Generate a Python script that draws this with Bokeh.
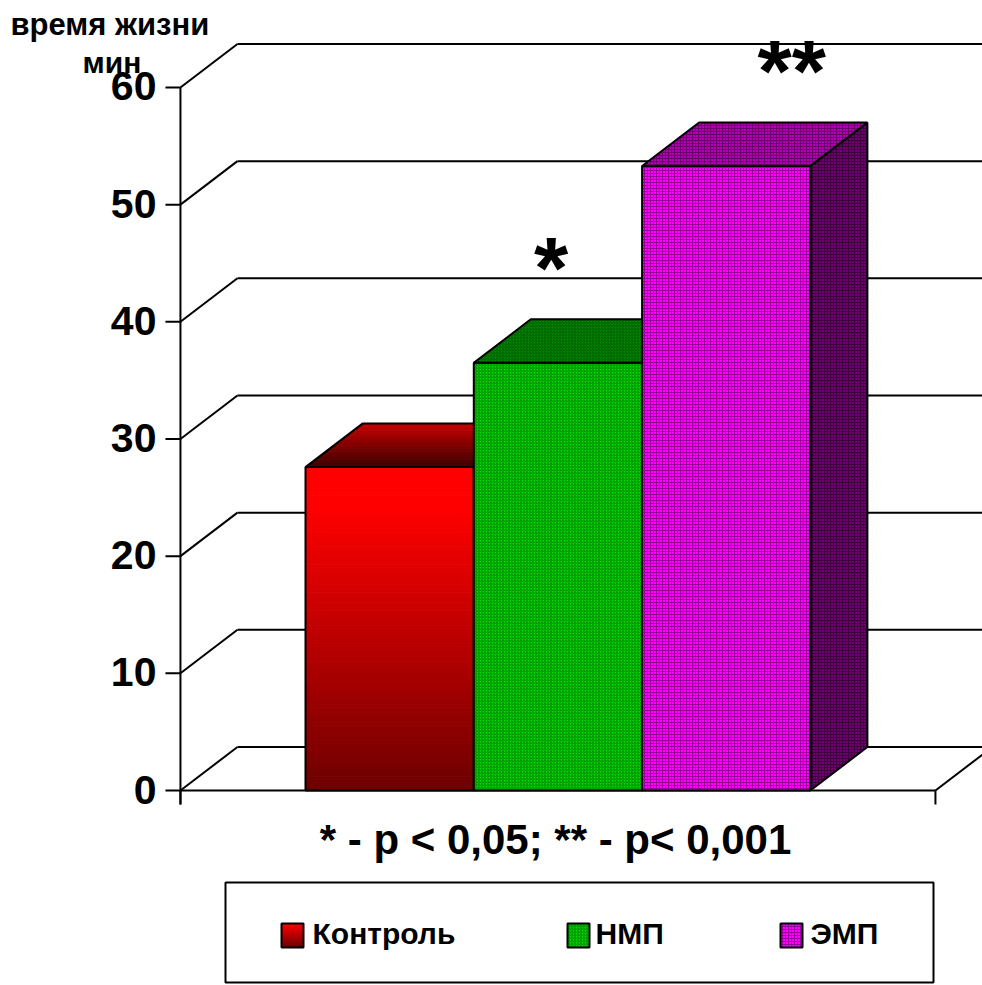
import numpy as np
from bokeh.plotting import figure
from bokeh.models import Range1d
from bokeh.core.properties import value
from bokeh.embed import file_html
from bokeh.resources import INLINE

# ---- data ---------------------------------------------------------------
series = ["Контроль", "НМП", "ЭМП"]
lifetime = [27.6, 36.5, 53.3]          # время жизни, мин
marks = ["", "*", "**"]                # significance markers
y_ticks = [0, 10, 20, 30, 40, 50, 60]
y_tick_labels = ["0", "10", "20", "30", "40", "50", "60"]
axis_title = ["время жизни", "мин"]
footnote = "* - p < 0,05; ** - p< 0,001"

# ---- layout -------------------------------------------------------------
W, H = 982, 985
PX_BAR = 168.3        # pixels per category unit (one bar width)
PX_VAL = 11.717       # pixels per minute
ORIGIN_X = 305        # pixel x of first bar's left edge
ORIGIN_Y = 790        # pixel y of the zero line (front plane)
BASE_FIX = 0.39       # baseline correction, in em, for the svg text layout


def sx(px):
    return (px - ORIGIN_X) / PX_BAR


def sy(py):
    return (ORIGIN_Y - py) / PX_VAL


def lift(size):
    """Value-units shift that puts the alphabetic baseline where asked."""
    return BASE_FIX * size / PX_VAL


GAP = 0.743                     # floor margin on each side of the bars
DX = 57 / PX_BAR                # depth offset, x
DY = 43.5 / PX_VAL              # depth offset, y
XL, XR = -GAP, len(series) + GAP
FONT = value("Liberation Sans")
LW = 2

p = figure(width=W, height=H, x_range=Range1d(sx(0), sx(W)),
           y_range=Range1d(sy(H), sy(0)), output_backend="svg",
           toolbar_location=None, x_axis_type=None, y_axis_type=None,
           min_border=0, outline_line_color=None)
p.background_fill_color = "white"
p.border_fill_color = "white"
p.grid.visible = False


def lerp(c0, c1, t):
    return "#%02x%02x%02x" % tuple(int(round(a + (b - a) * t)) for a, b in zip(c0, c1))


# ---- walls, floor and grid ---------------------------------------------
yt = np.array(y_ticks, dtype=float)
p.segment(x0=XL + DX, y0=yt + DY, x1=sx(W) + 1, y1=yt + DY, line_color="black", line_width=LW)
p.segment(x0=XL, y0=yt, x1=XL + DX, y1=yt + DY, line_color="black", line_width=LW)
p.segment(x0=[XL, XR], y0=[0, 0], x1=[XR, XR + DX], y1=[0, DY], line_color="black", line_width=LW)

# ---- bars -----------------------------------------------------------------
styles = [
    None,
    dict(front=("#00dc00", "#008400"), top=("#008c00", "#005a00"), side=("#006c00", "#004000"), pat="/"),
    dict(front=("#ff00ff", "#9a009a"), top=("#b400b4", "#6a006a"), side=("#700070", "#3c003c"), pat="+"),
]

for i, v in enumerate(lifetime):
    x0, x1 = float(i), float(i + 1)
    front = ([x0, x1, x1, x0], [0, 0, v, v])
    top = ([x0, x1, x1 + DX, x0 + DX], [v, v, v + DY, v + DY])
    side = ([x1, x1 + DX, x1 + DX, x1], [0, DY, v + DY, v])
    st = styles[i]
    if st is None:
        # gradient red: top and front built from thin strips
        n = 90
        edges = np.linspace(v, 0, n + 1)
        cols = [lerp((255, 0, 0), (0x6c, 0, 0), max(0.0, (k / n - 0.12) / 0.88)) for k in range(n)]
        p.quad(left=x0, right=x1, top=edges[:-1], bottom=edges[1:], fill_color=cols, line_color=cols, line_width=1)
        m = 30
        ts = np.linspace(0, 1, m + 1)
        xs = [[x0 + a * DX, x1 + a * DX, x1 + b * DX, x0 + b * DX] for a, b in zip(ts[:-1], ts[1:])]
        ys = [[v + a * DY, v + a * DY, v + b * DY, v + b * DY] for a, b in zip(ts[:-1], ts[1:])]
        tc = [lerp((0x3a, 0, 0), (0xc4, 0, 0), (k + 0.5) / m) for k in range(m)]
        p.patches(xs, ys, fill_color=tc, line_color=tc, line_width=1)
    else:
        for face, key in ((side, "side"), (top, "top"), (front, "front")):
            fc, hc = st[key]
            p.patch(face[0], face[1], fill_color=fc, line_color=None,
                    hatch_pattern=st["pat"], hatch_color=hc, hatch_scale=3, hatch_weight=1)
    for face in (side, top, front):
        p.patch(face[0], face[1], fill_color=None, line_color="black", line_width=LW)

# ---- value axis ------------------------------------------------------------
TICK_X = 15 / PX_BAR
TICK_Y = 14 / PX_VAL
p.segment(x0=XL, y0=-TICK_Y, x1=XL, y1=max(y_ticks), line_color="black", line_width=LW)
p.segment(x0=XL - TICK_X, y0=yt, x1=XL, y1=yt, line_color="black", line_width=LW)
p.segment(x0=[XL, XR], y0=[0, 0], x1=[XL, XR], y1=[-TICK_Y, -TICK_Y], line_color="black", line_width=LW)
p.text(x=XL - 24 / PX_BAR, y=yt - 15 / PX_VAL + lift(41), text=y_tick_labels, text_font=FONT,
       text_font_style="bold", text_font_size="41px", text_align="right",
       text_baseline="alphabetic", text_color="black")

# axis title
p.text(x=[sx(10)], y=[sy(36) + lift(31)], text=axis_title[:1], text_font=FONT,
       text_font_style="bold", text_font_size="31px", text_align="left",
       text_baseline="alphabetic", text_color="black")
p.text(x=[sx(82)], y=[sy(74) + lift(30)], text=axis_title[1:], text_font=FONT,
       text_font_style="bold", text_font_size="30px", text_align="left",
       text_baseline="alphabetic", text_color="black")

# ---- significance markers ---------------------------------------------------
MARK_SHIFT = [0.0, -0.21, 0.22]
mx = [i + 0.5 + DX / 2 + s for i, s in enumerate(MARK_SHIFT)]
my = [v + DY + 1.5 + lift(88) for v in lifetime]
p.text(x=mx, y=my, text=marks, text_font=FONT, text_font_style="bold",
       text_font_size="88px", text_align="center", text_baseline="alphabetic",
       text_color="black")

# ---- footnote ---------------------------------------------------------------
p.text(x=[sx(555)], y=[sy(855) + lift(42)], text=[footnote], text_font=FONT, text_font_style="bold",
       text_font_size="42px", text_align="center", text_baseline="alphabetic",
       text_color="black")

# ---- legend -----------------------------------------------------------------
p.quad(left=sx(225), right=sx(933), top=sy(882), bottom=sy(982), fill_color=None,
       line_color="black", line_width=LW)
KEY_LEFT = [281, 567, 780]
LABEL_LEFT = [312, 595, 810]
k_top, k_bot = sy(923), sy(947)
# gradient key for the control series
kn = 12
ke = np.linspace(k_top, k_bot, kn + 1)
kc = [lerp((255, 0, 0), (0x70, 0, 0), j / (kn - 1)) for j in range(kn)]
p.quad(left=sx(KEY_LEFT[0]), right=sx(KEY_LEFT[0] + 22), top=ke[:-1], bottom=ke[1:],
       fill_color=kc, line_color=kc, line_width=1)
for j in (1, 2):
    st = styles[j]
    p.quad(left=sx(KEY_LEFT[j]), right=sx(KEY_LEFT[j] + 22), top=k_top, bottom=k_bot,
           fill_color=st["front"][0], line_color=None, hatch_pattern=st["pat"],
           hatch_color=st["front"][1], hatch_scale=3, hatch_weight=1)
p.quad(left=[sx(a) for a in KEY_LEFT], right=[sx(a + 22) for a in KEY_LEFT], top=k_top,
       bottom=k_bot, fill_color=None, line_color="black", line_width=LW)
p.text(x=[sx(a) for a in LABEL_LEFT], y=sy(945) + lift(30), text=series, text_font=FONT,
       text_font_style="bold", text_font_size="30px", text_align="left",
       text_baseline="alphabetic", text_color="black")

open("out.html", "w").write(file_html(p, INLINE))
